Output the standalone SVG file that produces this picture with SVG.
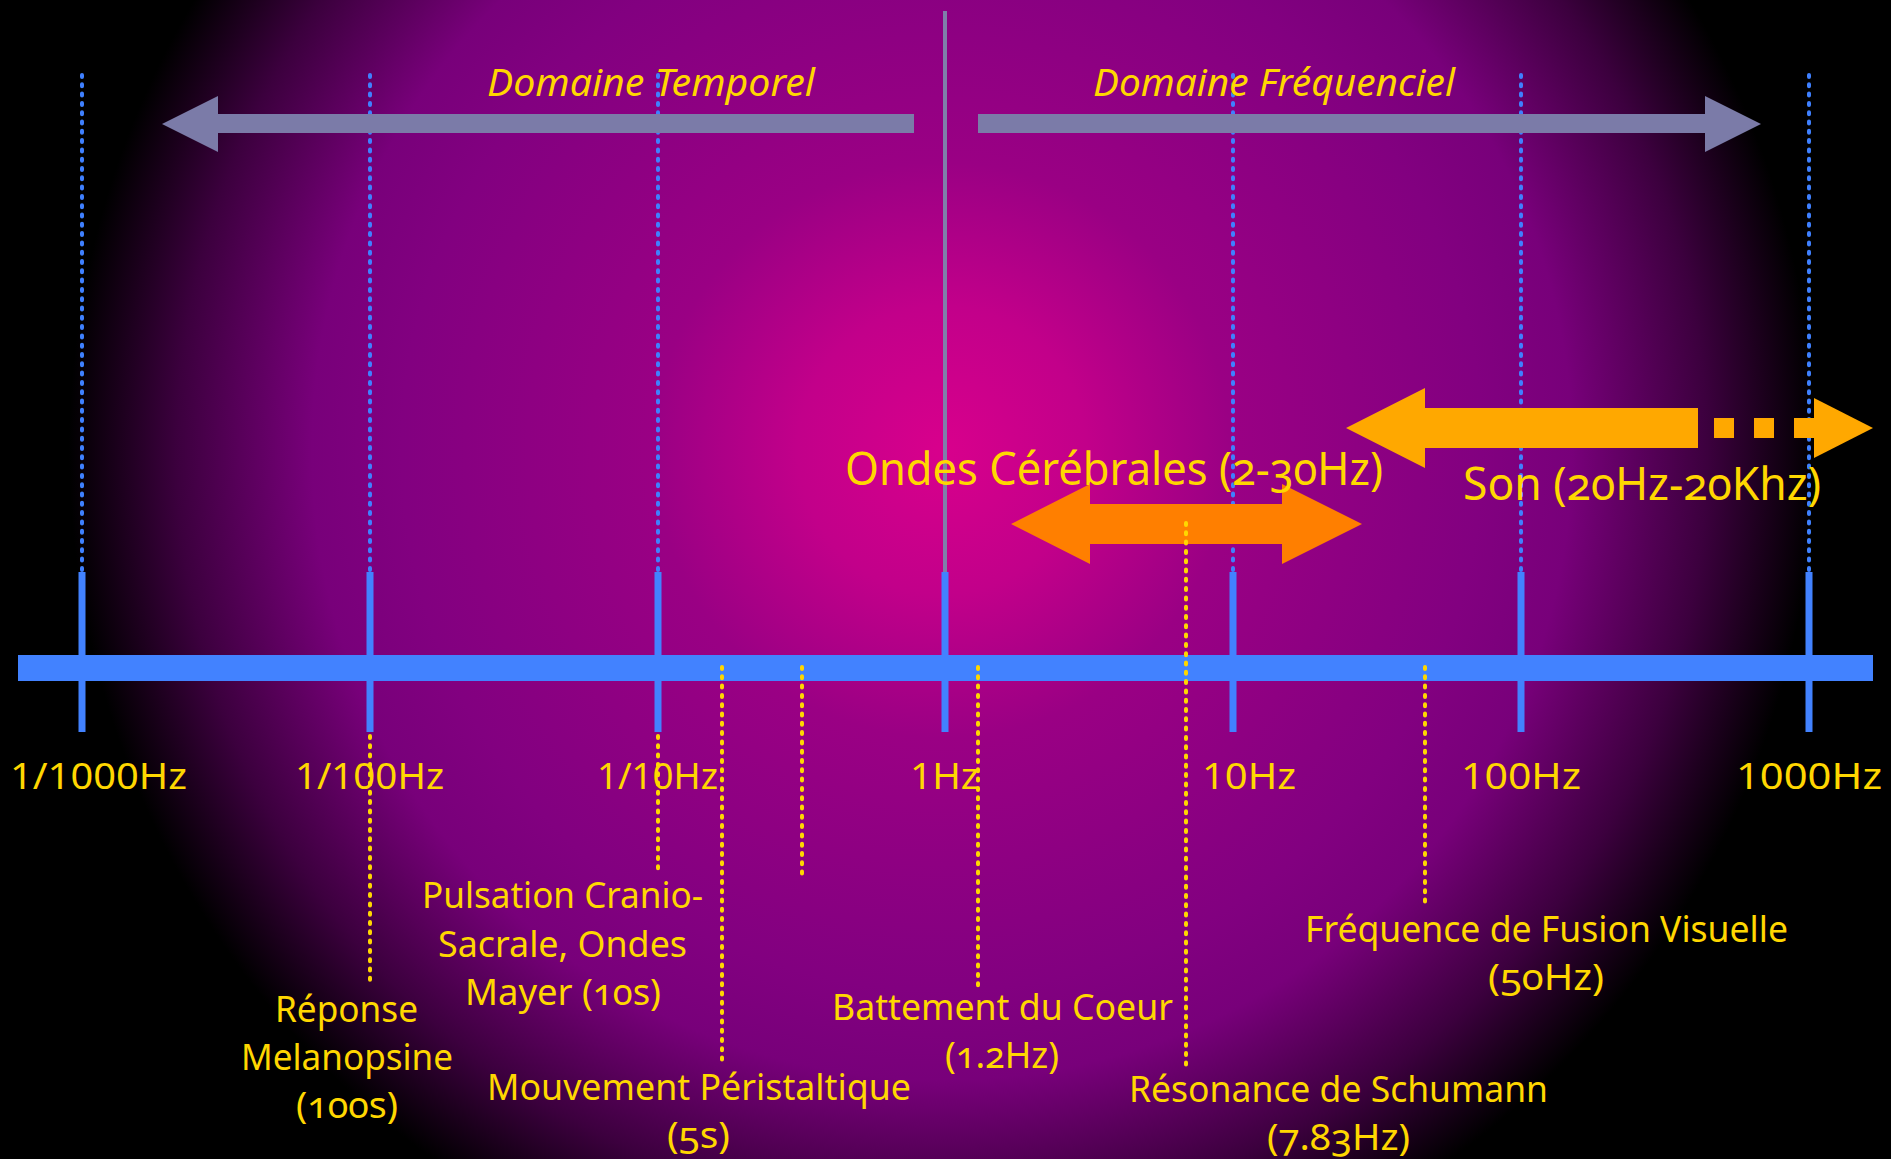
<svg xmlns="http://www.w3.org/2000/svg" width="1891" height="1159" viewBox="0 0 1891 1159">
<defs>
<radialGradient id="bg" gradientUnits="userSpaceOnUse" cx="942" cy="450" r="900">
<stop offset="0" stop-color="#D8008C"/>
<stop offset="0.16" stop-color="#C2008A"/>
<stop offset="0.32" stop-color="#9A0084"/>
<stop offset="0.6" stop-color="#820080"/>
<stop offset="0.7" stop-color="#78007A"/>
<stop offset="0.85" stop-color="#3C003E"/>
<stop offset="0.97" stop-color="#000000"/>
<stop offset="1" stop-color="#000000"/>
</radialGradient>
<style>
.t{font-family:"Noto Sans","Open Sans",sans-serif;fill:#FFD700;}
.tick{font-size:36px}
.lbl{font-size:36px;font-variant-numeric:oldstyle-nums}
.big{font-size:45px;font-variant-numeric:oldstyle-nums}
.dom{font-size:39px;font-style:italic}
.bdot{stroke:#3F80FF;stroke-width:4;stroke-dasharray:2 7.3;stroke-linecap:round;fill:none}
.ydot{stroke:#FFD700;stroke-width:4;stroke-dasharray:2 7.3;stroke-linecap:round;fill:none}
.tk{stroke:#4282FF;stroke-width:7}
.gray{fill:#7B7BA8}
</style>
</defs>
<rect width="1891" height="1159" fill="#000"/>
<rect width="1891" height="1159" fill="url(#bg)"/>

<g id="connectors">
  <g id="grid-dotted">
    <line class="bdot" x1="82" y1="75" x2="82" y2="572"/>
    <line class="bdot" x1="370" y1="75" x2="370" y2="572"/>
    <line class="bdot" x1="658" y1="75" x2="658" y2="572"/>
    <line class="bdot" x1="1233" y1="75" x2="1233" y2="572"/>
    <line class="bdot" x1="1521" y1="75" x2="1521" y2="572"/>
    <line class="bdot" x1="1809" y1="75" x2="1809" y2="572"/>
  </g>
  <line id="center-line" x1="945" y1="11" x2="945" y2="572" stroke="#7F7FAA" stroke-width="4"/>
  <g id="ticks">
    <line class="tk" x1="82" y1="572" x2="82" y2="732"/>
    <line class="tk" x1="370" y1="572" x2="370" y2="732"/>
    <line class="tk" x1="658" y1="572" x2="658" y2="732"/>
    <line class="tk" x1="945" y1="572" x2="945" y2="732"/>
    <line class="tk" x1="1233" y1="572" x2="1233" y2="732"/>
    <line class="tk" x1="1521" y1="572" x2="1521" y2="732"/>
    <line class="tk" x1="1809" y1="572" x2="1809" y2="732"/>
  </g>
  <rect id="axis" x="18" y="655" width="1855" height="26" fill="#4282FF"/>
  <polygon id="arrow-temporel" class="gray" points="162,124 218,96 218,114 914,114 914,133 218,133 218,152"/>
  <polygon id="arrow-frequenciel" class="gray" points="978,114 1705,114 1705,96 1761,124 1705,152 1705,133 978,133"/>
  <g id="arrow-son" fill="#FFA800">
    <polygon points="1346,428 1425,388 1425,408 1698,408 1698,448 1425,448 1425,468"/>
    <rect x="1714" y="418" width="20" height="20"/>
    <rect x="1754" y="418" width="20" height="20"/>
    <rect x="1794" y="418" width="21" height="20"/>
    <polygon points="1814,398 1873,428 1814,458"/>
  </g>
  <polygon id="arrow-ondes" fill="#FF7F00" points="1011,524 1090,484 1090,504 1282,504 1282,484 1362,524 1282,564 1282,544 1090,544 1090,564"/>
  <g id="markers-dotted">
    <line class="ydot" x1="370" y1="736" x2="370" y2="984"/>
    <line class="ydot" x1="658" y1="736" x2="658" y2="873"/>
    <line class="ydot" x1="722" y1="667" x2="722" y2="1060"/>
    <line class="ydot" x1="802" y1="667" x2="802" y2="875"/>
    <line class="ydot" x1="978" y1="667" x2="978" y2="986"/>
    <line class="ydot" x1="1186" y1="523" x2="1186" y2="1066"/>
    <line class="ydot" x1="1425" y1="667" x2="1425" y2="902"/>
  </g>
</g>

<g id="domaine-temporel"><text class="t dom" x="487" y="96" textLength="328" lengthAdjust="spacingAndGlyphs">Domaine Temporel</text></g>
<g id="domaine-frequenciel"><text class="t dom" x="1093" y="96" textLength="362" lengthAdjust="spacingAndGlyphs">Domaine Fréquenciel</text></g>
<g id="ondes-cerebrales"><text class="t big" x="845" y="485" textLength="538" lengthAdjust="spacingAndGlyphs">Ondes Cérébrales (2-30Hz)</text></g>
<g id="son"><text class="t big" x="1463" y="500" textLength="358" lengthAdjust="spacingAndGlyphs">Son (20Hz-20Khz)</text></g>

<g id="tick-labels">
  <g id="t-1-1000"><text class="t tick" x="10" y="789" textLength="177" lengthAdjust="spacingAndGlyphs">1/1000Hz</text></g>
  <g id="t-1-100"><text class="t tick" x="295" y="789" textLength="149" lengthAdjust="spacingAndGlyphs">1/100Hz</text></g>
  <g id="t-1-10"><text class="t tick" x="597" y="789" textLength="121" lengthAdjust="spacingAndGlyphs">1/10Hz</text></g>
  <g id="t-1"><text class="t tick" x="910" y="789" textLength="69" lengthAdjust="spacingAndGlyphs">1Hz</text></g>
  <g id="t-10"><text class="t tick" x="1202" y="789" textLength="94" lengthAdjust="spacingAndGlyphs">10Hz</text></g>
  <g id="t-100"><text class="t tick" x="1461" y="789" textLength="120" lengthAdjust="spacingAndGlyphs">100Hz</text></g>
  <g id="t-1000"><text class="t tick" x="1736" y="789" textLength="146" lengthAdjust="spacingAndGlyphs">1000Hz</text></g>
</g>

<g id="melanopsine">
  <text class="t lbl" x="275" y="1022" textLength="143" lengthAdjust="spacingAndGlyphs">Réponse</text>
  <text class="t lbl" x="241" y="1070" textLength="212" lengthAdjust="spacingAndGlyphs">Melanopsine</text>
  <text class="t lbl" x="296" y="1118" textLength="102" lengthAdjust="spacingAndGlyphs">(100s)</text>
</g>
<g id="cranio-sacrale">
  <text class="t lbl" x="422" y="908" textLength="281" lengthAdjust="spacingAndGlyphs">Pulsation Cranio-</text>
  <text class="t lbl" x="438" y="957" textLength="249" lengthAdjust="spacingAndGlyphs">Sacrale, Ondes</text>
  <text class="t lbl" x="465" y="1005" textLength="196" lengthAdjust="spacingAndGlyphs">Mayer (10s)</text>
</g>
<g id="peristaltique">
  <text class="t lbl" x="487" y="1100" textLength="424" lengthAdjust="spacingAndGlyphs">Mouvement Péristaltique</text>
  <text class="t lbl" x="667" y="1148" textLength="63" lengthAdjust="spacingAndGlyphs">(5s)</text>
</g>
<g id="coeur">
  <text class="t lbl" x="832" y="1020" textLength="341" lengthAdjust="spacingAndGlyphs">Battement du Coeur</text>
  <text class="t lbl" x="945" y="1068" textLength="114" lengthAdjust="spacingAndGlyphs">(1.2Hz)</text>
</g>
<g id="fusion-visuelle">
  <text class="t lbl" x="1305" y="942" textLength="483" lengthAdjust="spacingAndGlyphs">Fréquence de Fusion Visuelle</text>
  <text class="t lbl" x="1488" y="990" textLength="116" lengthAdjust="spacingAndGlyphs">(50Hz)</text>
</g>
<g id="schumann">
  <text class="t lbl" x="1129" y="1102" textLength="419" lengthAdjust="spacingAndGlyphs">Résonance de Schumann</text>
  <text class="t lbl" x="1267" y="1150" textLength="143" lengthAdjust="spacingAndGlyphs">(7.83Hz)</text>
</g>
</svg>
